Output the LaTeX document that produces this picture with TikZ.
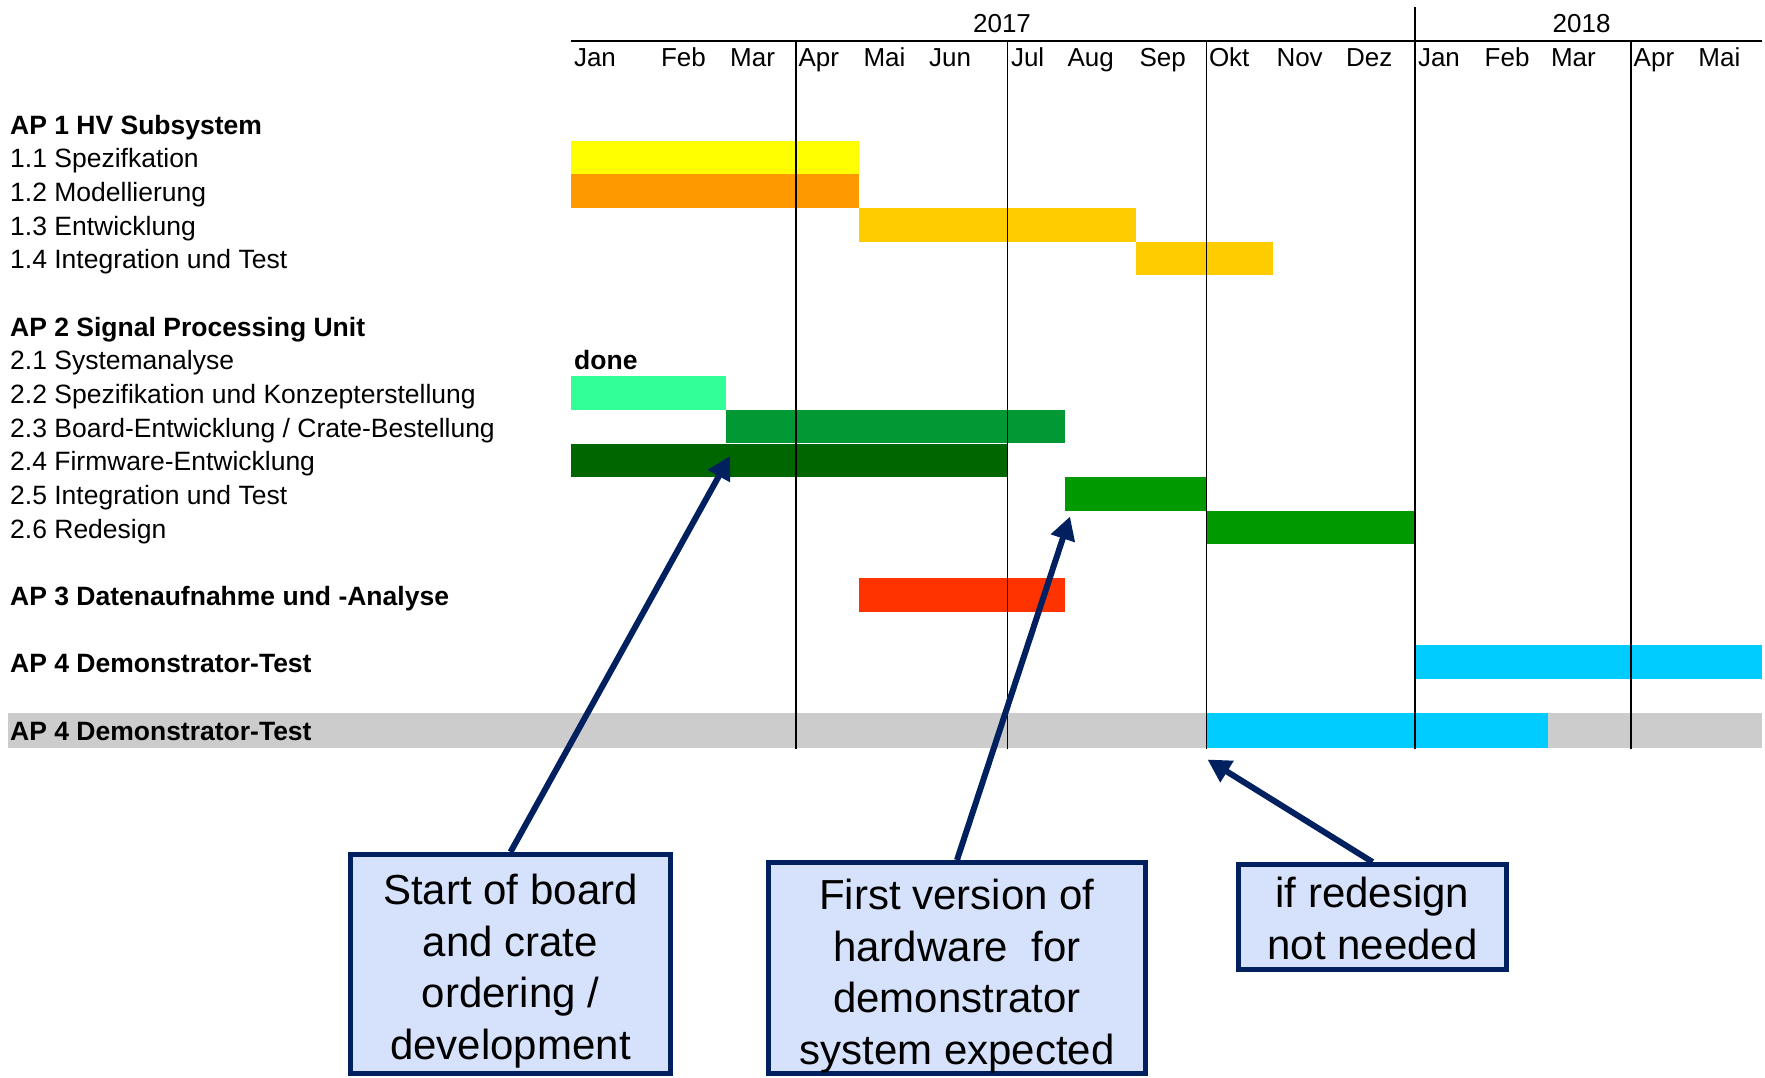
\documentclass[tikz,border=0pt]{standalone}
\usepackage{xcolor}
\usepackage{fontspec}
\setmainfont{Liberation Sans}
\usepackage{tikz}
\tikzset{>=latex}
\usetikzlibrary{arrows.meta}

\definecolor{apyellow}{HTML}{FFFF00}
\definecolor{aporange}{HTML}{FF9900}
\definecolor{apgold}{HTML}{FFCC00}
\definecolor{apmint}{HTML}{33FF99}
\definecolor{apgreen}{HTML}{009933}
\definecolor{apdark}{HTML}{006600}
\definecolor{apmid}{HTML}{009900}
\definecolor{apred}{HTML}{FF3300}
\definecolor{apcyan}{HTML}{00CCFF}
\definecolor{rowgray}{HTML}{CCCCCC}
\definecolor{callblue}{HTML}{D6E2FB}
\definecolor{callnavy}{HTML}{00205F}

\tikzset{
    rowlabel/.style={anchor=base west, inner sep=0pt, font=\fontsize{26.5}{30}\selectfont},
    headlabel/.style={anchor=base west, inner sep=0pt, font=\fontsize{26}{30}\selectfont},
    callout/.style={draw=callnavy, fill=callblue, line width=5pt, inner sep=0pt},
    callouttext/.style={align=center, inner sep=0pt, font=\fontsize{42}{51.5}\selectfont},
    callarrow/.style={draw=callnavy, line width=6pt, -{Triangle[length=23pt, width=24pt]}},
}

\begin{document}
\begin{tikzpicture}[x=1pt, y=-1pt]
    \useasboundingbox (0,0) rectangle (1765,1077);

    % grey summary row
    \fill[rowgray] (8,712.5) rectangle (1762,748);
    \fill[apcyan] (1206.8,712.5) rectangle (1547.8,748);

    % bars
    \foreach \k/\xa/\xb/\c in {1/570.7/858.9/apyellow, 2/570.7/858.9/aporange, 3/858.9/1135.8/apgold, 4/1135.8/1273.2/apgold,
                               8/570.7/726.3/apmint, 9/726.3/1064.9/apgreen, 10/570.7/1007.5/apdark, 11/1064.9/1206.8/apmid,
                               12/1206.8/1415/apmid, 14/858.9/1064.9/apred, 16/1415/1761.7/apcyan}{
            \fill[\c] (\xa,{123.8+33.65*\k-16.8}) rectangle (\xb,{123.8+33.65*\k+16.8});
        }

    % time axis
    \draw[line width=1.2pt] (571,41) -- (1762,41);
    \foreach \x in {795.9, 1007.5, 1206.8, 1631}{
            \draw[line width=1.2pt] (\x,41) -- (\x,748.5);
        }
    \draw[line width=1.2pt] (1415,6.7) -- (1415,748.5);

    \node[headlabel, anchor=base] (y17) at (1002,32.3) {2017};
    \node[headlabel, anchor=base] (y18) at (1581.6,32.3) {2018};
    \foreach \x/\m [count=\i] in {573.8/Jan, 660.8/Feb, 730/Mar, 798.4/Apr, 863.3/Mai, 929/Jun, 1010.8/Jul, 1067.3/Aug, 1139.3/Sep,
                                  1208.8/Okt, 1276.3/Nov, 1346/Dez, 1417.8/Jan, 1484.5/Feb, 1550.8/Mar, 1633.5/Apr, 1698.2/Mai}{
            \node[headlabel] (m\i) at (\x,66.5) {\m};
        }

    % work packages
    \node[rowlabel, font=\fontsize{26.5}{30}\selectfont\bfseries] (ap1) at (10,{123.8+10.5}) {AP 1 HV Subsystem};
    \node[rowlabel] (t11) at (10,{123.8+33.65*1+10.5}) {1.1 Spezifkation};
    \node[rowlabel] (t12) at (10,{123.8+33.65*2+10.5}) {1.2 Modellierung};
    \node[rowlabel] (t13) at (10,{123.8+33.65*3+10.5}) {1.3 Entwicklung};
    \node[rowlabel] (t14) at (10,{123.8+33.65*4+10.5}) {1.4 Integration und Test};
    \node[rowlabel, font=\fontsize{26.5}{30}\selectfont\bfseries] (ap2) at (10,{123.8+33.65*6+10.5}) {AP 2 Signal Processing Unit};
    \node[rowlabel] (t21) at (10,{123.8+33.65*7+10.5}) {2.1 Systemanalyse};
    \node[rowlabel] (t22) at (10,{123.8+33.65*8+10.5}) {2.2 Spezifikation und Konzepterstellung};
    \node[rowlabel] (t23) at (10,{123.8+33.65*9+10.5}) {2.3 Board-Entwicklung / Crate-Bestellung};
    \node[rowlabel] (t24) at (10,{123.8+33.65*10+10.5}) {2.4 Firmware-Entwicklung};
    \node[rowlabel] (t25) at (10,{123.8+33.65*11+10.5}) {2.5 Integration und Test};
    \node[rowlabel] (t26) at (10,{123.8+33.65*12+10.5}) {2.6 Redesign};
    \node[rowlabel, font=\fontsize{26.5}{30}\selectfont\bfseries] (ap3) at (10,{123.8+33.65*14+10.5}) {AP 3 Datenaufnahme und -Analyse};
    \node[rowlabel, font=\fontsize{26.5}{30}\selectfont\bfseries] (ap4) at (10,{123.8+33.65*16+10.5}) {AP 4 Demonstrator-Test};
    \node[rowlabel, font=\fontsize{26.5}{30}\selectfont\bfseries] (ap4b) at (10,{123.8+33.65*18+10.5}) {AP 4 Demonstrator-Test};
    \node[rowlabel, font=\fontsize{26.5}{30}\selectfont\bfseries] (done) at (574,{123.8+33.65*7+10.5}) {done};

    % callouts
    \node[callout, minimum width=320pt, minimum height=219pt] (board) at (510.5,964) {};
    \node[callout, minimum width=377pt, minimum height=211pt] (hw) at (957,968) {};
    \node[callout, minimum width=268pt, minimum height=104.5pt] (redesign) at (1372.5,916.75) {};
    \node[callouttext] (boardtxt) at (510.5,971) {Start of board\\and crate\\ordering /\\development};
    \node[callouttext] (hwtxt) at (957,976) {First version of\\hardware\ \ for\\demonstrator\\system expected};
    \node[callouttext] (redesigntxt) at (1372.5,918.5) {if redesign\\not needed};

    \coordinate (tipA) at (730,456);
    \coordinate (tipB) at (1070,516.5);
    \coordinate (tipC) at (1207.5,759.5);

    \draw[callarrow] (board.north) -- (tipA);
    \draw[callarrow] (hw.north) -- (tipB);
    \draw[callarrow] (redesign.north) -- (tipC);

\end{tikzpicture}
\end{document}
